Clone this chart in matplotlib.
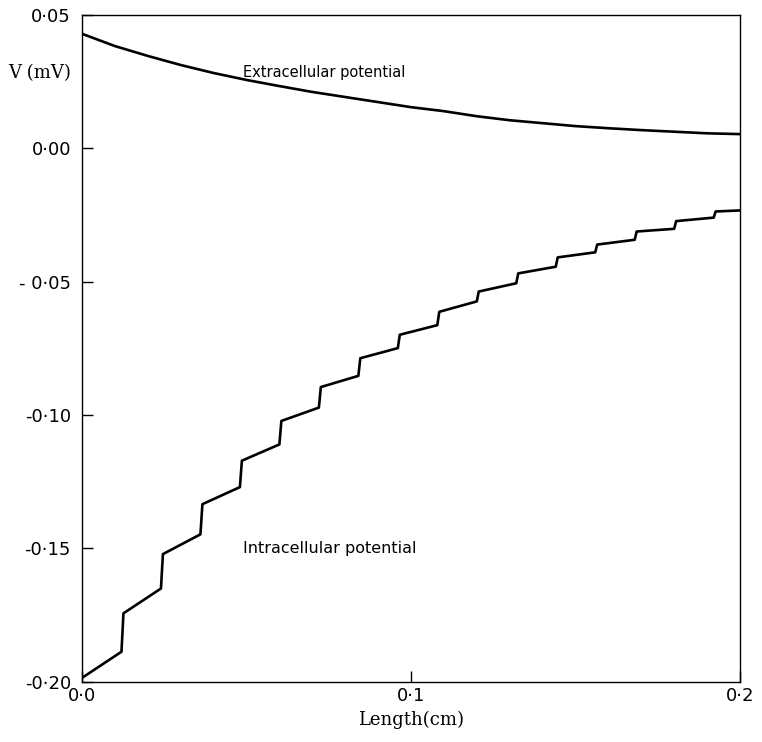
import numpy as np
import matplotlib
matplotlib.use("Agg")
import matplotlib.pyplot as plt

# Extracellular potential, read every 0.01 cm
ext_x = [0.00, 0.01, 0.02, 0.03, 0.04, 0.05, 0.06, 0.07, 0.08, 0.09, 0.10,
         0.11, 0.12, 0.13, 0.14, 0.15, 0.16, 0.17, 0.18, 0.19, 0.20]
ext_v = [0.0429, 0.0383, 0.0346, 0.0312, 0.0282, 0.0256, 0.0233, 0.0211,
         0.0192, 0.0173, 0.0154, 0.0139, 0.0120, 0.0105, 0.0094, 0.0083,
         0.0075, 0.0068, 0.0062, 0.0056, 0.0053]

# Intracellular potential: one segment per cell, cells 0.012 cm long
cell_len = 0.012
seg_start_v = [-0.1985, -0.1743, -0.1521, -0.1334, -0.1171, -0.1022, -0.0895,
               -0.0787, -0.0699, -0.0613, -0.0537, -0.0469, -0.0409, -0.0361,
               -0.0312, -0.0273, -0.0237]
seg_end_v = [-0.1887, -0.1650, -0.1447, -0.1270, -0.1110, -0.0972, -0.0853,
             -0.0749, -0.0663, -0.0574, -0.0506, -0.0444, -0.0390, -0.0343,
             -0.0302, -0.0260, -0.0233]

y_ticks = [0.05, 0.00, -0.05, -0.10, -0.15, -0.20]
y_labels = ["0·05", "0·00", "- 0·05", "-0·10", "-0·15", "-0·20"]
x_ticks = [0.0, 0.1, 0.2]
x_labels = ["0·0", "0·1", "0·2"]

# build the staircase from the segments
int_x, int_v = [], []
for i in range(len(seg_start_v)):
    x0 = i * cell_len + (0.0006 if i > 0 else 0.0)
    x1 = min((i + 1) * cell_len, 0.2)
    int_x += [x0, x1]
    int_v += [seg_start_v[i], seg_end_v[i]]

fig = plt.figure(figsize=(7.62, 7.42), dpi=100)
ax = fig.add_axes([0.1076, 0.081, 0.8635, 0.899])

ax.plot(ext_x, ext_v, color="black", lw=1.9, solid_joinstyle="round")
ax.plot(int_x, int_v, color="black", lw=1.9, solid_joinstyle="round")

ax.set_xlim(0, 0.2)
ax.set_ylim(-0.20, 0.05)
ax.set_yticks(y_ticks)
ax.set_yticklabels(y_labels, fontsize=13)
ax.set_xticks(x_ticks)
ax.set_xticklabels(x_labels, fontsize=13)
ax.tick_params(direction="in", length=8, width=1, colors="black")
ax.tick_params(axis="y", pad=8)
ax.tick_params(axis="x", pad=4)
for s in ax.spines.values():
    s.set_linewidth(1.0)
    s.set_color("black")

ax.set_xlabel("Length(cm)", fontsize=13, family="DejaVu Serif", labelpad=4)
ax.annotate("V (mV)", (-0.016, 0.028), xycoords=("axes fraction", "data"),
            ha="right", va="center", fontsize=13, family="DejaVu Serif")

ax.text(0.049, 0.0283, "Extracellular potential", fontsize=10.5, va="center")
ax.text(0.049, -0.150, "Intracellular potential", fontsize=11.5, va="center")

fig.savefig("out.png", dpi=100, facecolor="white")
